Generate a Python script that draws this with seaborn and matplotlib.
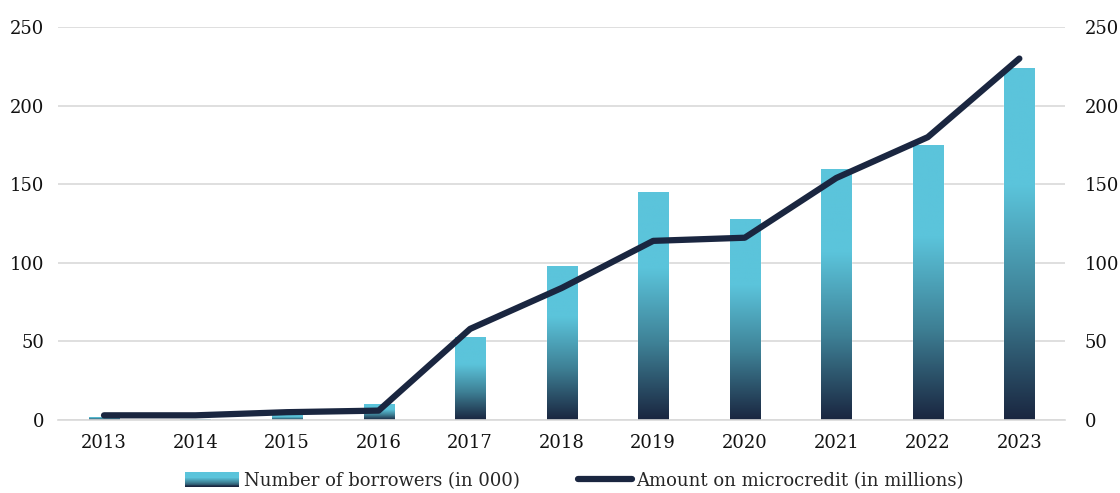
import numpy as np
import pandas as pd
import matplotlib
matplotlib.use("Agg")
import matplotlib.pyplot as plt
import seaborn as sns
from matplotlib.colors import LinearSegmentedColormap
from matplotlib.patches import Rectangle
from matplotlib.legend_handler import HandlerBase
from matplotlib.lines import Line2D

years = ["2013", "2014", "2015", "2016", "2017", "2018", "2019", "2020", "2021", "2022", "2023"]
borrowers = [2, 0.5, 3, 10, 53, 98, 145, 128, 160, 175, 224]
microcredit = [3, 3, 5, 6, 58, 84, 114, 116, 154, 180, 230]

sns.set_theme(style="white")
plt.rcParams['font.family'] = ['DejaVu Serif']

cyan = "#5BC4DB"
navy = "#1A2640"
grad = LinearSegmentedColormap.from_list("g", [navy, "#3E8095", cyan, cyan], N=256)

df = pd.DataFrame({"year": years, "borrowers": borrowers, "credit": microcredit})

fig, ax = plt.subplots(figsize=(11.2, 4.93), dpi=100)
fig.subplots_adjust(left=0.052, right=0.951, top=0.945, bottom=0.148)

sns.barplot(data=df, x="year", y="borrowers", color=cyan, width=0.33,
            saturation=1, ax=ax, zorder=2)

# paint each bar with a vertical gradient
img = np.linspace(0, 1, 256).reshape(-1, 1)
for bar in ax.patches:
    x0, y0 = bar.get_x(), bar.get_y()
    w, h = bar.get_width(), bar.get_height()
    if h <= 0:
        continue
    im = ax.imshow(img, cmap=grad, origin="lower", aspect="auto",
                   extent=[x0, x0 + w, y0, y0 + h], zorder=2.5)
    im.set_clip_path(bar)

ax.set_ylim(0, 250)
ax.set_xlim(-0.5, len(years) - 0.5)
ax.set_yticks([0, 50, 100, 150, 200, 250])
ax.grid(axis="y", color="#D9D9D9", linewidth=1.2, zorder=0)
ax.set_axisbelow(True)
for s in ["top", "right", "left"]:
    ax.spines[s].set_visible(False)
ax.spines["bottom"].set_color("#D9D9D9")
ax.spines["bottom"].set_linewidth(1.2)
ax.tick_params(axis="both", length=0, labelsize=13, colors="#111111")
ax.tick_params(axis="x", pad=10)
ax.tick_params(axis="y", pad=10)
ax.set_xlabel("")
ax.set_ylabel("")

ax2 = ax.twinx()
sns.lineplot(data=df, x="year", y="credit", color=navy, linewidth=4.5,
             ax=ax2, solid_capstyle="round", zorder=5)
ax2.set_ylim(0, 250)
ax2.set_yticks([0, 50, 100, 150, 200, 250])
for s in ["top", "right", "left", "bottom"]:
    ax2.spines[s].set_visible(False)
ax2.tick_params(axis="y", length=0, labelsize=13, colors="#111111", pad=14)
ax2.set_ylabel("")
ax2.set_xlabel("")


class GradientHandler(HandlerBase):
    def create_artists(self, legend, orig_handle, xdescent, ydescent,
                       width, height, fontsize, trans):
        arts = []
        n = 16
        for i in range(n):
            c = grad(1 - i / (n - 1))
            y = -ydescent + height * (1 - (i + 1) / n)
            r = Rectangle((-xdescent, y), width, height / n * 1.08,
                          facecolor=c, edgecolor="none", transform=trans)
            arts.append(r)
        return arts


bar_handle = Rectangle((0, 0), 1, 1, facecolor=cyan)
line_handle = Line2D([0], [0], color=navy, linewidth=4.5, solid_capstyle="round")
fig.legend([bar_handle, line_handle],
           ["Number of borrowers (in 000)", "Amount on microcredit (in millions)"],
           handler_map={Rectangle: GradientHandler()},
           loc="center", bbox_to_anchor=(0.513, 0.024), ncol=2, frameon=False,
           fontsize=13, handlelength=3.0, handletextpad=0.25, columnspacing=3.2,
           handleheight=0.9)

fig.savefig("out.png", dpi=100)
